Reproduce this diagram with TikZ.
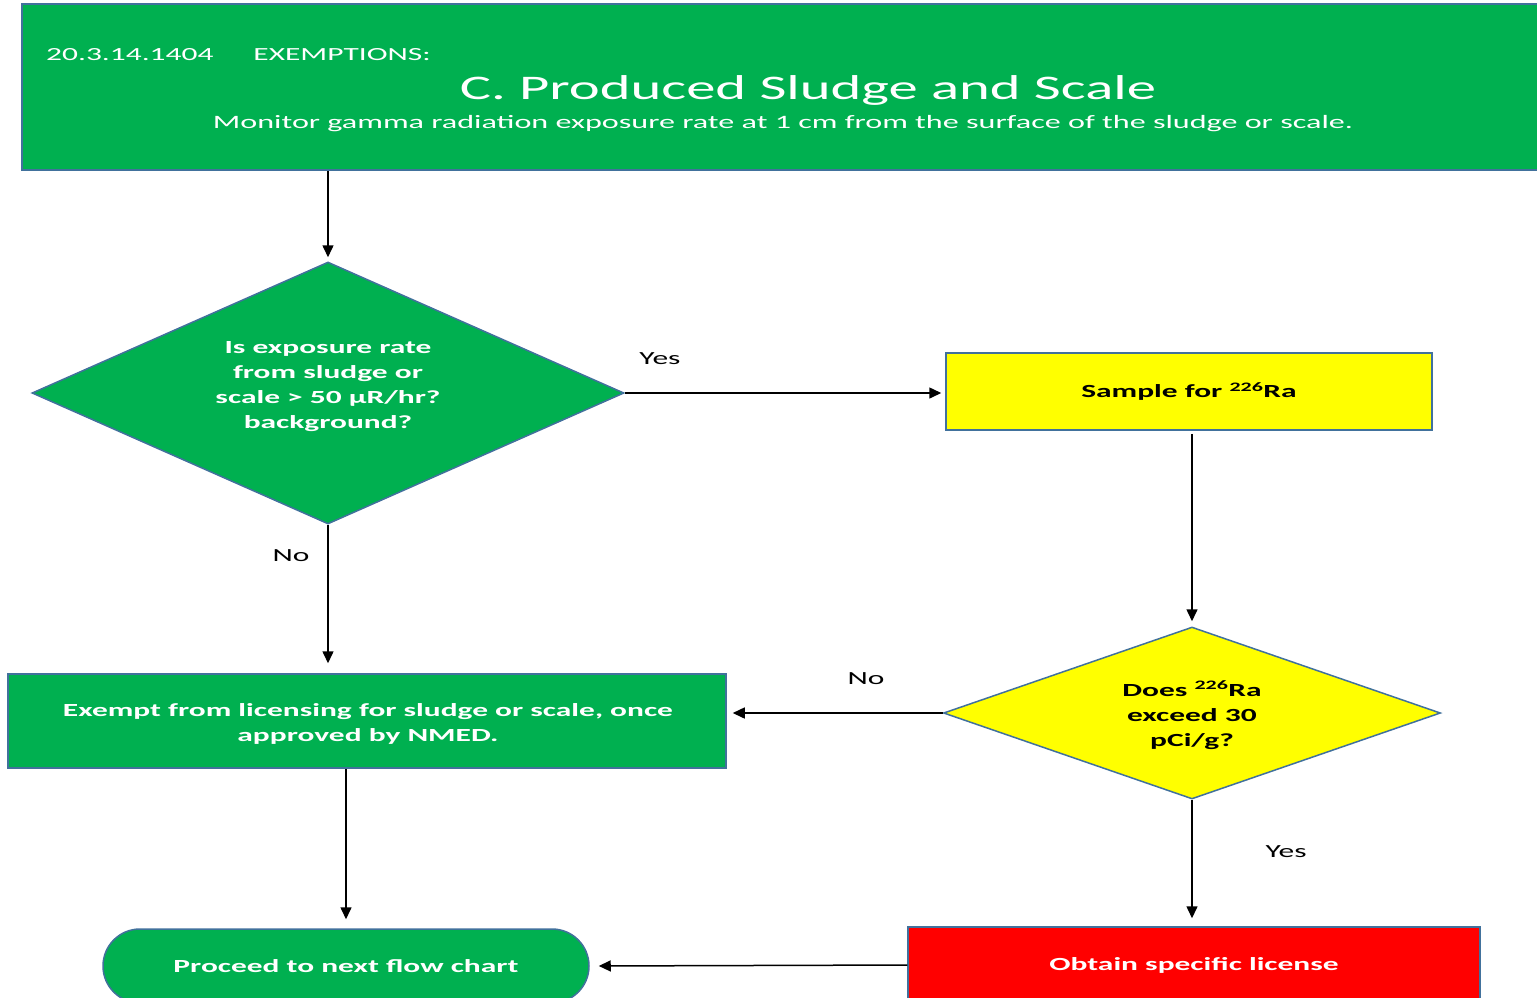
\documentclass[tikz,border=0pt]{standalone}
\usepackage{fontspec}
\setmainfont{Carlito}[FakeStretch=1.7]
\usetikzlibrary{shapes.geometric,shapes.misc,arrows.meta}
\definecolor{ogreen}{HTML}{00B050}
\definecolor{oyellow}{HTML}{FFFF00}
\definecolor{ored}{HTML}{FF0000}
\definecolor{oborder}{HTML}{41719C}
\begin{document}
\begin{tikzpicture}[x=1pt,y=-1pt,
  box/.style={rectangle, draw=oborder, line width=1.5pt, inner sep=0pt, align=center},
  dia/.style={diamond, draw=oborder, line width=1.5pt, inner sep=0pt},
  body/.style={font=\fontsize{18.5}{25}\selectfont},
  bbody/.style={font=\fontsize{18.5}{25}\selectfont\bfseries},
  wtxt/.style={text=white},
  arr/.style={draw=black, line width=1.5pt, -{Triangle[length=12pt,width=11pt]}},
  lab/.style={font=\fontsize{18.5}{25}\selectfont, text=black, inner sep=0pt}
]
\useasboundingbox (0,0) rectangle (1537,997);
\fill[white] (0,0) rectangle (1537,997);

% header
\node[box, fill=ogreen, minimum width=1523pt, minimum height=166pt] (hdr) at (783.5,87) {};
\node[body, wtxt, anchor=base west, inner sep=0pt] (code) at (46,60) {20.3.14.1404\hspace{40pt}EXEMPTIONS:};
\node[wtxt, font=\fontsize{34.5}{40}\selectfont, inner sep=0pt] (title) at (808,90) {C. Produced Sludge and Scale};
\node[wtxt, font=\fontsize{18.9}{25}\selectfont, inner sep=0pt] (sub) at (783,123.5) {Monitor gamma radiation exposure rate at 1 cm from the surface of the sludge or scale.};

% decision 1
\node[dia, fill=ogreen, aspect=2.26, minimum width=592pt, minimum height=262pt] (d1) at (328,393) {};
\node[bbody, wtxt, align=center, inner sep=0pt] (d1t) at (328,387)
  {Is exposure rate\\from sludge or\\scale > 50 µR/hr?\\background?};

% sample
\node[box, fill=oyellow, bbody, minimum width=486pt, minimum height=77pt] (sample) at (1189,391.5)
  {Sample for \textsuperscript{226}Ra};

% decision 2
\node[dia, fill=oyellow, aspect=2.89, minimum width=497pt, minimum height=172pt] (d2) at (1192,713) {};
\node[bbody, align=center, inner sep=0pt] (d2t) at (1192,715)
  {Does \textsuperscript{226}Ra\\exceed 30\\pCi/g?};

% exempt
\node[box, fill=ogreen, minimum width=718pt, minimum height=94pt] (exempt) at (367,721) {};
\node[bbody, wtxt, align=center, inner sep=0pt] (exemptt) at (368,723.5)
  {Exempt from licensing for sludge or scale, once\\approved by NMED.};

% proceed
\node[rounded rectangle, draw=oborder, line width=1.5pt, fill=ogreen, bbody, wtxt,
  minimum width=486pt, minimum height=74pt, inner sep=0pt] (proceed) at (346,966)
  {Proceed to next flow chart};

% license
\node[box, fill=ored, bbody, wtxt, minimum width=572pt, minimum height=76pt] (license) at (1194,965)
  {Obtain specific license};

% labels
\node[lab] (yes1) at (660,359) {Yes};
\node[lab] (no1) at (291,556) {No};
\node[lab] (no2) at (866,679) {No};
\node[lab] (yes2) at (1286,852) {Yes};

% connectors
\draw[arr, shorten >=4pt] (hdr.south -| d1.north) -- (d1.north);
\draw[arr, shorten >=4pt] (d1.east) -- (d1.east -| sample.west);
\draw[arr, shorten <=3pt, shorten >=5pt] (sample.south -| d2.north) -- (d2.north);
\draw[arr, shorten >=6pt] (d2.west) -- (d2.west -| exempt.east);
\draw[arr, shorten >=10pt] (d1.south) -- (d1.south |- exempt.north);
\draw[arr, shorten >=9pt] (proceed.north |- exempt.south) -- (proceed.north);
\draw[arr, shorten >=8pt] (d2.south) -- (d2.south |- license.north);
\draw[arr, shorten >=9pt] (license.west) -- (proceed.east);
\end{tikzpicture}
\end{document}
